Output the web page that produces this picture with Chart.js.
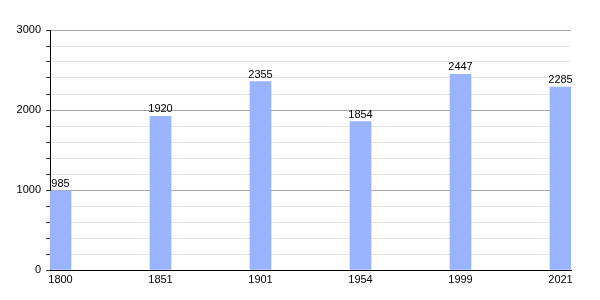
<!DOCTYPE html>
<html>
<head>
<meta charset="utf-8">
<script src="https://cdn.jsdelivr.net/npm/chart.js@4"></script>
<style>
  body { margin: 0; background: #fff; }
</style>
</head>
<body>
<canvas id="popChart" width="600" height="300"></canvas>
<script>
// data
const years = ['1800', '1851', '1901', '1954', '1999', '2021'];
const population = [985, 1920, 2355, 1854, 2447, 2285];
const yTickLabels = [0, 1000, 2000, 3000];

document.addEventListener('DOMContentLoaded', function() {
    const ctx = document.getElementById('popChart').getContext('2d');

    // labels above the bars
    const valueLabels = {
        id: 'valueLabels',
        afterDatasetsDraw(chart) {
            const c = chart.ctx;
            const meta = chart.getDatasetMeta(0);
            c.save();
            c.font = '11px "Liberation Sans", Arial, sans-serif';
            c.fillStyle = '#000';
            c.textAlign = 'center';
            c.textBaseline = 'alphabetic';
            meta.data.forEach(function(bar, i) {
                c.fillText(String(population[i]), bar.x, bar.y - 4);
            });
            c.restore();
        }
    };

    new Chart(ctx, {
        type: 'bar',
        data: {
            datasets: [{
                data: population.map(function(v, i) { return { x: i, y: v }; }),
                backgroundColor: '#99b3ff',
                borderWidth: 0,
                barThickness: 21
            }]
        },
        options: {
            responsive: false,
            animation: false,
            layout: { padding: { top: 30, right: 29, left: 0, bottom: 0 } },
            plugins: {
                legend: { display: false },
                tooltip: { enabled: false }
            },
            scales: {
                x: {
                    type: 'linear',
                    min: -0.105,
                    max: 5.105,
                    offset: false,
                    afterBuildTicks: function(scale) {
                        scale.ticks = years.map(function(_, i) { return { value: i }; });
                    },
                    afterFit: function(scale) { scale.height = 30; },
                    grid: { display: false, drawTicks: false, offset: false },
                    border: { display: true, color: '#000', width: 1 },
                    ticks: {
                        autoSkip: false,
                        maxRotation: 0,
                        padding: 3,
                        color: '#000',
                        font: { family: '"Liberation Sans", Arial, sans-serif', size: 11 },
                        callback: function(v) { return years[v]; }
                    }
                },
                y: {
                    min: 0,
                    max: 3000,
                    afterFit: function(scale) { scale.width = 50; },
                    grid: {
                        color: function(c) {
                            return yTickLabels.includes(c.tick.value) ? '#a8a8a8' : '#e2e2e2';
                        },
                        tickColor: '#333',
                        tickLength: 4
                    },
                    border: { display: true, color: '#000', width: 1 },
                    ticks: {
                        stepSize: 200,
                        autoSkip: false,
                        padding: 5,
                        color: '#000',
                        font: { family: '"Liberation Sans", Arial, sans-serif', size: 11 },
                        callback: function(v) { return yTickLabels.includes(v) ? String(v) : ''; }
                    }
                }
            }
        },
        plugins: [valueLabels]
    });
});
</script>
</body>
</html>
